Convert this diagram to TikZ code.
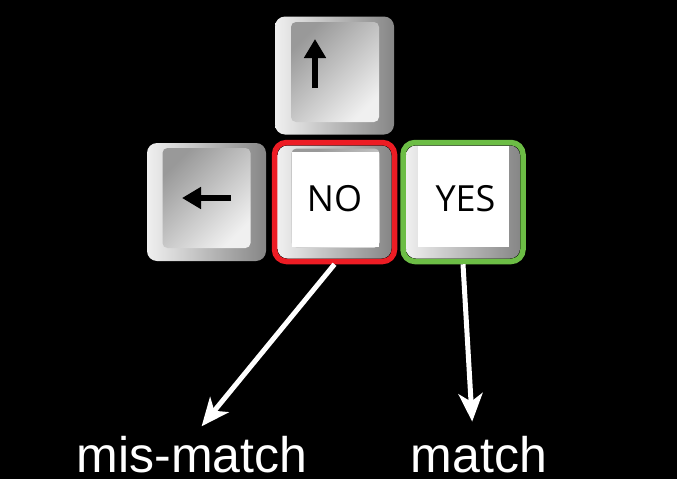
\documentclass[tikz,border=0pt]{standalone}
\usepackage{fontspec}
\setmainfont{Liberation Sans}
\newfontfamily\keyfont{Open Sans}
\usetikzlibrary{arrows.meta}
\definecolor{ringred}{HTML}{ED1C24}
\definecolor{ringgreen}{HTML}{6CBD45}

\begin{document}
\begin{tikzpicture}[x=1pt,y=-1pt,>={Stealth[length=28pt,width=24pt,inset=8pt]},
    keybody/.style={rounded corners=10pt,minimum width=119pt,minimum height=118pt,inner sep=0pt,
        shading=axis,left color=gray!12,right color=gray!95},
    keyface/.style={rounded corners=5pt,minimum width=88pt,minimum height=100pt,inner sep=0pt,
        shading=axis,top color=gray!80,bottom color=gray!12,shading angle=45},
    blankface/.style={fill=white,minimum width=88pt,minimum height=96pt,inner sep=0pt},
    ring/.style={draw=#1,line width=5.5pt,rounded corners=12pt,minimum width=120pt,minimum height=119pt,inner sep=0pt},
    keytext/.style={font=\keyfont\fontsize{36}{36}\selectfont,text=black},
    glyph/.style={line width=5.5pt,-{Triangle[length=19pt,width=21pt]}},
    lbl/.style={font=\fontsize{50}{50}\selectfont,text=white,inner sep=0pt,anchor=base},
    conn/.style={->,draw=white,line width=5pt}]
        % background
        \useasboundingbox[fill=black] (0,0) rectangle (677,479);
        % arrow keys
        \node[keybody] (upkey) at (334.5,75.5) {};
        \node[keyface] (upface) at (335,72) {};
        \node[keybody] (leftkey) at (206.5,202) {};
        \node[keyface] (leftface) at (206.5,198) {};
        \draw[glyph] (315,88) -- (315,39);
        \draw[glyph] (231,198) -- (182,198);
        % answer keys
        \node[keybody,minimum width=114pt,minimum height=113pt] (nokey) at (334.5,202) {};
        \node[keyface,minimum height=99pt] at (335.5,198) {};
        \node[blankface,minimum width=87pt,minimum height=95pt] (noface) at (335.5,199.5) {};
        \node[keytext] at (334.5,199) {NO};
        \node[ring=ringred] (no) at (334.5,202) {};
        \node[keybody,minimum width=114pt,minimum height=113pt] (yeskey) at (463,202) {};
        \node[blankface,minimum width=91pt,minimum height=101pt] (yesface) at (463.5,196.5) {};
        \node[keytext] at (465.5,199) {YES};
        \node[ring=ringgreen] (yes) at (463,202) {};
        % labels
        \node[lbl] (mis) at (192,472) {mis-match};
        \node[lbl] (match) at (479,472) {match};
        \draw[conn,shorten >=12pt] (no.south) -- ([xshift=2pt]mis.north);
        \draw[conn,shorten >=14pt] (yes.south) -- ([xshift=-6pt]match.north);
\end{tikzpicture}
\end{document}
